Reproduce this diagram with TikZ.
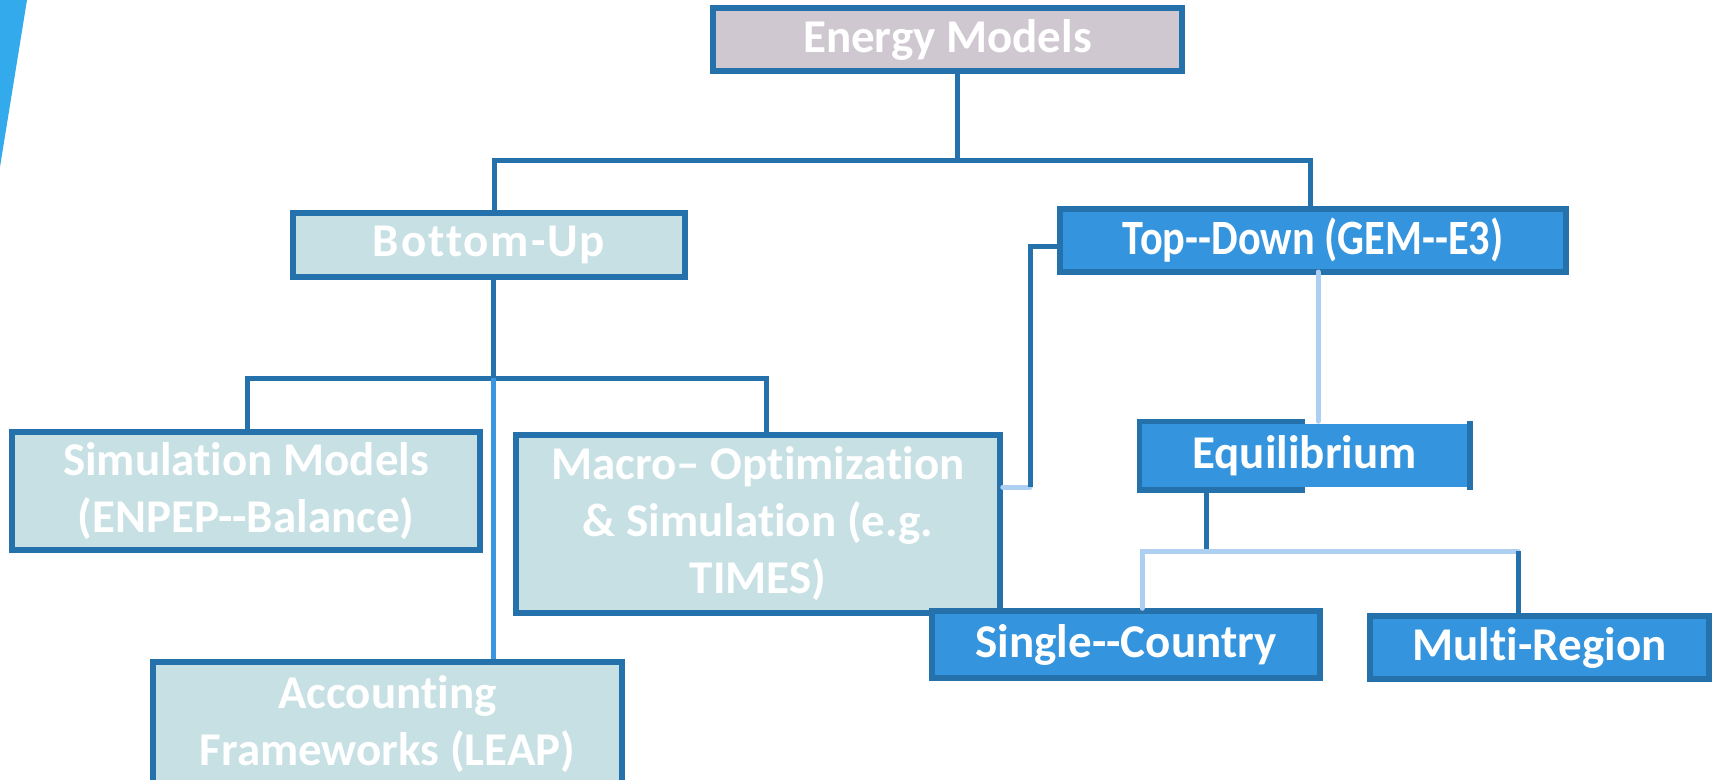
\documentclass[tikz,border=0pt]{standalone}
\usepackage{fontspec}
\setmainfont{Carlito}[Ligatures={TeX,NoCommon}]
\usepackage{graphicx}
\definecolor{dkb}{RGB}{36,113,171}
\definecolor{emf}{RGB}{207,200,208}
\definecolor{palef}{RGB}{199,224,228}
\definecolor{tdf}{RGB}{52,148,221}
\definecolor{ltl}{RGB}{173,208,242}
\definecolor{mdl}{RGB}{58,150,222}
\definecolor{tri}{RGB}{50,170,235}
\newcommand\bxfont{\fontsize{47}{57}\selectfont\bfseries}
\newcommand\hh{-\kern0pt-}
\tikzset{
  box/.style={draw=dkb, line width=5.5pt, inner sep=0pt, text=white, font=\bxfont, align=center},
  embox/.style={box, fill=emf},
  palebox/.style={box, fill=palef},
  bluebox/.style={box, fill=tdf},
  dk/.style={draw=dkb, line width=5pt},
  lt/.style={draw=ltl, line width=5pt, line cap=round},
  md/.style={draw=mdl, line width=5pt}
}
\begin{document}
\begin{tikzpicture}[x=1pt,y=-1pt]
\clip (0,0) rectangle (1713,779);
\fill[white] (0,0) rectangle (1713,779);
\fill[tri] (0,0) -- (27,0) -- (0,167) -- cycle;

\node[embox, minimum width=469pt, minimum height=63pt] (em) at (947.5,39.5) {Energy Models};
\node[palebox, minimum width=392pt, minimum height=64pt] (bu) at (489,245) {\addfontfeatures{LetterSpace=4}Bottom-Up};
\node[bluebox, minimum width=506pt, minimum height=63pt] (td) at (1313,240.5) {\scalebox{0.9}[1.05]{Top\hh Down (GEM\hh E3)}};
\node[palebox, minimum width=468pt, minimum height=118pt] (sim) at (246,491) {Simulation Models\\(ENPEP\hh Balance)};
\node[palebox, minimum width=484pt, minimum height=178pt] (mac) at (758,524) {Macro-- Optimization\\\& Simulation (e.g.\\TIMES)};
\node[palebox, minimum width=469pt, minimum height=124pt] (acc) at (387.5,724) {Accounting\\Frameworks (LEAP)};
\node[bluebox, draw=none, minimum width=325pt, minimum height=63pt] (eq) at (1304.5,455.5) {Equilibrium};
\draw[dkb, line width=5.5pt] (eq.north) -- (eq.north west) -- (eq.south west) -- (eq.south);
\draw[dkb, line width=5.5pt] (eq.north east) -- (eq.south east);
\node[bluebox, minimum width=388pt, minimum height=67pt] (sc) at (1126,644.5) {Single\hh Country};
\node[bluebox, minimum width=339pt, minimum height=63pt] (mr) at (1539.5,647.5) {Multi-Region};

\coordinate (j1) at (957,162);
\coordinate (b1L) at (494,160);
\coordinate (b1R) at (1310,160);
\coordinate (b2L) at (247,378);
\coordinate (b2M) at (493,378);
\coordinate (b2R) at (766,378);
\coordinate (k1) at (1030,487);
\coordinate (k2) at (1030,246);
\coordinate (v1) at (1318,272);
\coordinate (b3L) at (1142,551);
\coordinate (b3M) at (1206,551);
\coordinate (b3R) at (1518,551);

\draw[dk] (j1 |- em.south) -- (j1);
\draw[dk] (b1L |- bu.north) -- (b1L) -- (b1R) -- (b1R |- td.north);
\draw[dk] (b2M |- bu.south) -- (b2M);
\draw[dk] (b2L |- sim.north) -- (b2L) -- (b2R) -- (b2R |- mac.north);
\draw[md] (b2M) -- (b2M |- acc.north);
\draw[lt] (k1 -| mac.east) -- (k1);
\draw[dk] (k1) -- (k2) -- (k2 -| td.west);
\draw[lt] (v1) -- (v1 |- eq.north);
\draw[dk] (b3M |- eq.south) -- (b3M);
\draw[lt] (b3L |- sc.north) -- (b3L) -- (b3R);
\draw[dk] (b3R) -- (b3R |- mr.north);
\end{tikzpicture}
\end{document}
